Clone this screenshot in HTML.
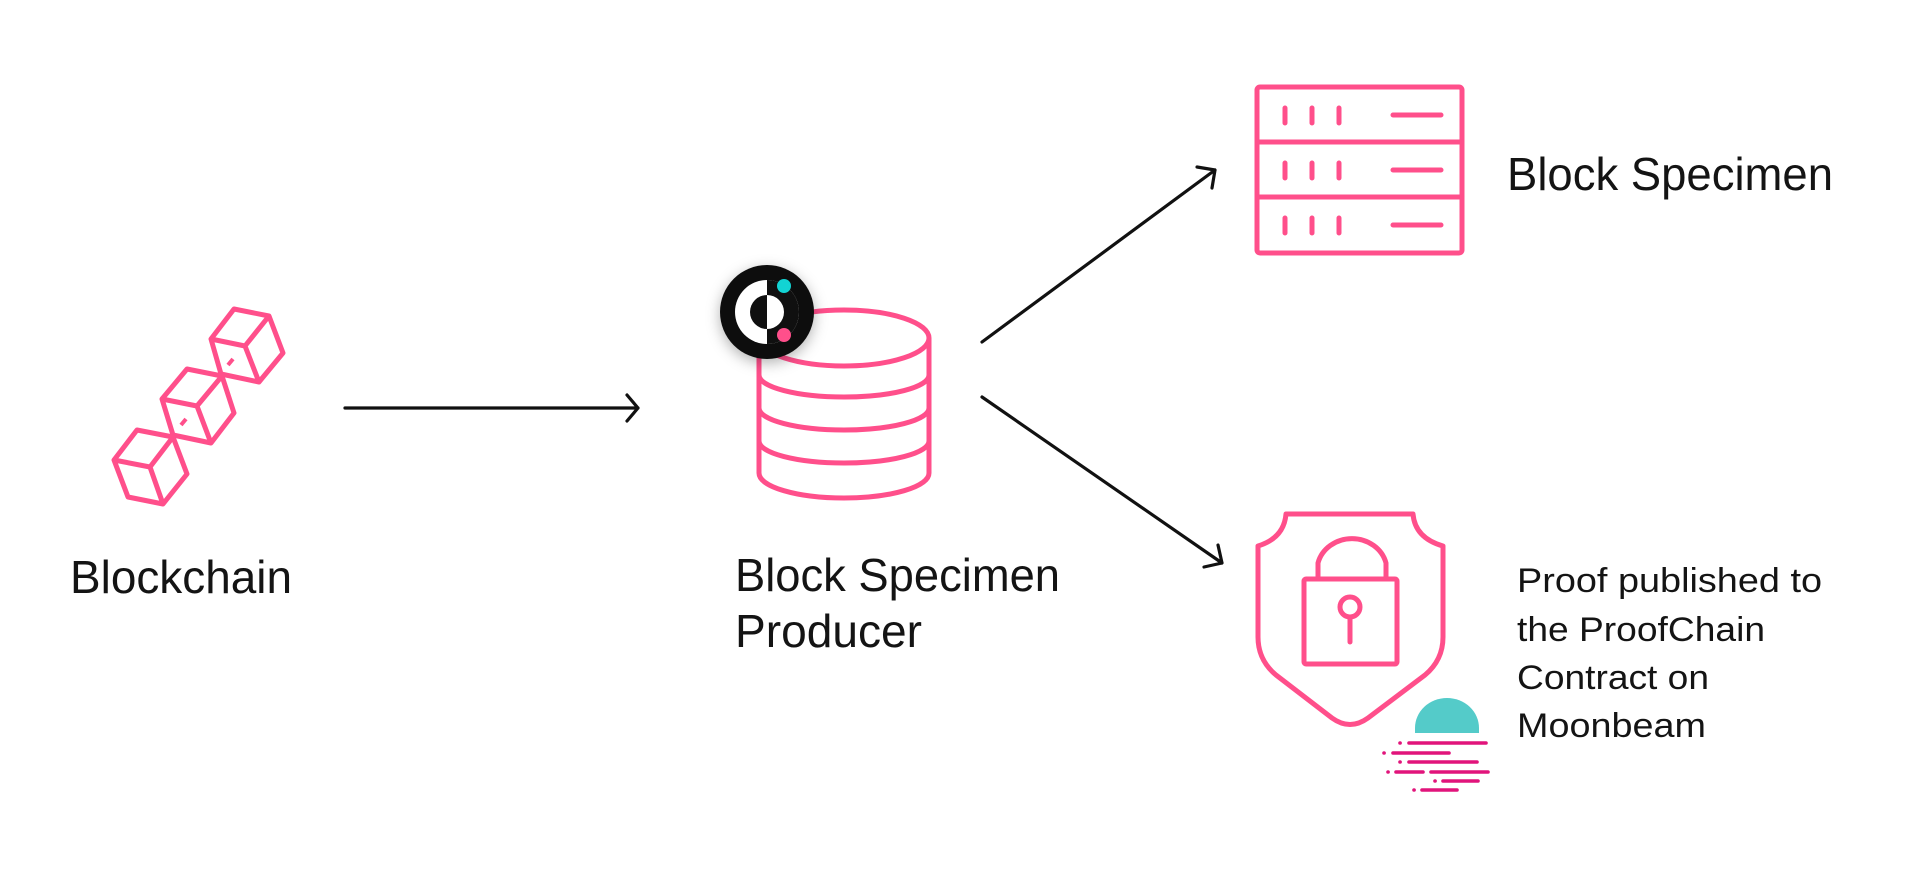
<!DOCTYPE html>
<html><head><meta charset="utf-8"><style>
html,body{margin:0;padding:0;background:#fff;}
svg{display:block;}
text{font-family:"Liberation Sans",sans-serif;fill:#141414;}
</style></head><body>
<svg width="1932" height="880" viewBox="0 0 1932 880" xmlns="http://www.w3.org/2000/svg">
<defs>
<filter id="sh" x="-50%" y="-50%" width="200%" height="200%">
<feDropShadow dx="0" dy="4" stdDeviation="7" flood-color="#000" flood-opacity="0.3"/>
</filter>
</defs>
<rect width="1932" height="880" fill="#fff"/>
<!-- cubes -->
<g fill="none" stroke="#FF4F8B" stroke-width="5" stroke-linejoin="round">
<path d="M234,309 L269,316 L283,353 L259,382 L221,374 L211,339 Z M211,339 L245,346 L269,316 M245,346 L259,382"/>
<path d="M187,369 L222,376 L234,413 L211,443 L173,435 L162,399 Z M162,399 L197,406 L222,376 M197,406 L211,443"/>
<path d="M137,430 L173,437 L187,474 L163,504 L128,497 L114,460 Z M114,460 L150,467 L173,437 M150,467 L163,504"/>
<path d="M228,365 L233,359 M181,425 L186,419" stroke-width="4"/>
</g>
<text x="70" y="593" font-size="46" textLength="222" lengthAdjust="spacingAndGlyphs">Blockchain</text>
<!-- arrow 1 -->
<g fill="none" stroke="#111" stroke-width="3.2" stroke-linecap="round" stroke-linejoin="round">
<path d="M345,408 L638,408 M627,395 L638,408 L627,421"/>
<path d="M982,342 L1215,170 M1197,167 L1215,170 L1212,188"/>
<path d="M982,397 L1222,563 M1204,567 L1222,563 L1218,545"/>
</g>
<!-- database -->
<g fill="none" stroke="#FF4F8B" stroke-width="5">
<ellipse cx="844" cy="338" rx="85" ry="28"/>
<path d="M759,338 L759,473 A85,25 0 0 0 929,473 L929,338"/>
<path d="M759,375 A85,22 0 0 0 929,375 M759,408 A85,22 0 0 0 929,408 M759,441 A85,22 0 0 0 929,441"/>
</g>
<!-- logo -->
<g filter="url(#sh)"><circle cx="767" cy="312" r="47" fill="#101010"/></g>
<circle cx="767" cy="312" r="32" fill="#fff"/>
<path d="M767,295 A17,17 0 0 0 767,329 Z" fill="#101010"/>
<path d="M767,280 A32,32 0 0 1 767,344 L767,329 A17,17 0 0 0 767,295 Z" fill="#101010"/>
<circle cx="784" cy="286" r="7" fill="#12D3D3"/>
<circle cx="784" cy="335" r="7" fill="#FF4F8B"/>
<text x="735" y="591" font-size="46" textLength="325" lengthAdjust="spacingAndGlyphs">Block Specimen</text>
<text x="735" y="647" font-size="46" textLength="187" lengthAdjust="spacingAndGlyphs">Producer</text>
<!-- server -->
<g fill="none" stroke="#FF4F8B" stroke-width="5" stroke-linecap="round">
<rect x="1257" y="87" width="205" height="166" rx="3"/>
<path d="M1257,142 L1462,142 M1257,197 L1462,197"/>
<path d="M1285,108 V123 M1312,108 V123 M1339,108 V123 M1393,115 H1441"/>
<path d="M1285,163 V178 M1312,163 V178 M1339,163 V178 M1393,170 H1441"/>
<path d="M1285,218 V233 M1312,218 V233 M1339,218 V233 M1393,225 H1441"/>
</g>
<text x="1507" y="190" font-size="46" textLength="326" lengthAdjust="spacingAndGlyphs">Block Specimen</text>
<!-- shield -->
<g fill="none" stroke="#FF4F8B" stroke-width="5" stroke-linecap="round" stroke-linejoin="round">
<path d="M1286,514 L1413,514 Q1415,538 1443,546 L1443,637 Q1443,660 1425,675 L1368,718 Q1350,731 1332,718 L1276,675 Q1258,660 1258,637 L1258,546 Q1284,538 1286,514 Z"/>
<path d="M1318,578 L1318,563 A35,32 0 0 1 1386,563 L1386,578"/>
<rect x="1304" y="579" width="93" height="85" rx="2"/>
<circle cx="1350" cy="607" r="10"/>
<path d="M1350,617 V642"/>
</g>
<!-- moonbeam -->
<path d="M1415,733 L1415,728 A32,30 0 0 1 1479,728 L1479,733 Z" fill="#54CBC9"/>
<g stroke="#E1147B" stroke-width="3.6" stroke-linecap="round">
<path d="M1400,743 h0.1 M1409,743 H1486"/>
<path d="M1384,753 h0.1 M1393,753 H1449"/>
<path d="M1400,762 h0.1 M1409,762 H1477"/>
<path d="M1388,772 h0.1 M1396,772 H1423 M1431,772 H1488"/>
<path d="M1435,781 h0.1 M1443,781 H1478"/>
<path d="M1414,790 h0.1 M1422,790 H1457"/>
</g>
<g font-size="34">
<text x="1517" y="592" textLength="305" lengthAdjust="spacingAndGlyphs">Proof published to</text>
<text x="1517" y="641" textLength="248" lengthAdjust="spacingAndGlyphs">the ProofChain</text>
<text x="1517" y="689" textLength="192" lengthAdjust="spacingAndGlyphs">Contract on</text>
<text x="1517" y="737" textLength="189" lengthAdjust="spacingAndGlyphs">Moonbeam</text>
</g>
</svg>
</body></html>
